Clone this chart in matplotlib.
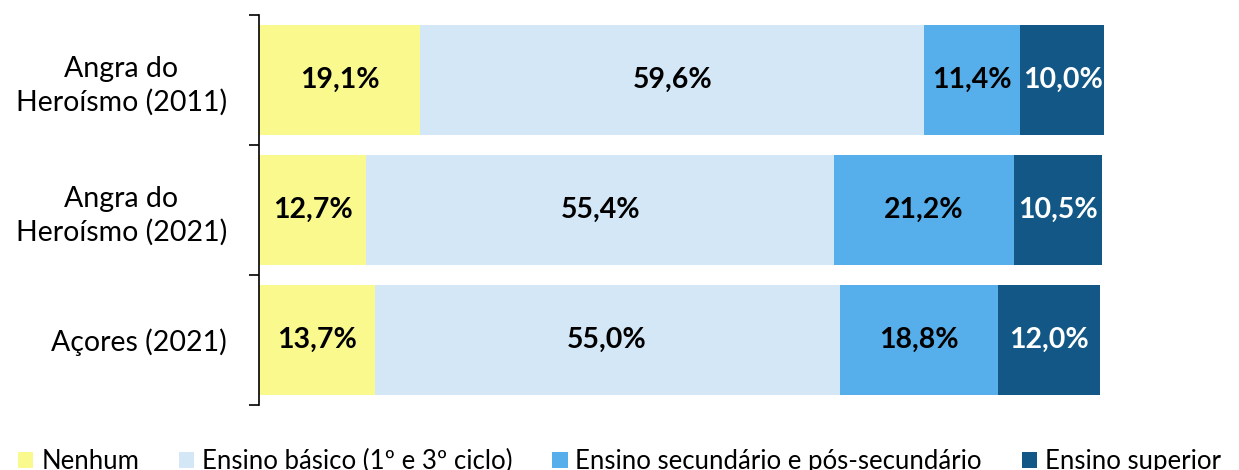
"""Stacked horizontal bars: education level distribution."""

import matplotlib.pyplot as plt
from matplotlib.patches import Patch

plt.rcParams["font.family"] = ["Lato", "DejaVu Sans"]

categories = ["Angra do\nHeroísmo (2011)", "Angra do\nHeroísmo (2021)", "Açores (2021)"]
series_names = [
    "Nenhum",
    "Ensino básico (1º e 3º ciclo)",
    "Ensino secundário e pós-secundário",
    "Ensino superior",
]
nenhum = [19.1, 12.7, 13.7]
basico = [59.6, 55.4, 55.0]
secundario = [11.4, 21.2, 18.8]
superior = [10.0, 10.5, 12.0]

colors = ["#F9F98E", "#D3E7F7", "#56AEEA", "#125785"]
text_colors = ["black", "black", "black", "white"]

fig = plt.figure(figsize=(12.39, 4.70), dpi=100)
ax = fig.add_axes([259 / 1239, 1 - 405 / 470, (1104 - 259) / 1239, 390 / 470])

ypos = [0, 1, 2]
left = [0.0, 0.0, 0.0]
for name, vals, col, tcol in zip(series_names, [nenhum, basico, secundario, superior], colors, text_colors):
    ax.barh(ypos, vals, left=left, height=0.846, color=col, label=name)
    for y, v, l in zip(ypos, vals, left):
        ax.text(l + v / 2, y, f"{v:.1f}%".replace(".", ","), ha="center", va="center",
                fontsize=20.5, fontweight="bold", color=tcol)
    left = [a + b for a, b in zip(left, vals)]

ax.set_ylim(2.5, -0.5)
ax.set_xlim(0, 100)
ax.set_yticks(ypos)
ax.set_yticklabels(categories, fontsize=20.5, multialignment="center", linespacing=1.3)
ax.set_yticks([-0.5, 0.5, 1.5, 2.5], minor=True)
ax.tick_params(axis="y", which="major", length=0, pad=23)
ax.tick_params(axis="y", which="minor", length=7, width=1.2, color="black")
ax.set_xticks([])
for side in ["top", "right", "bottom"]:
    ax.spines[side].set_visible(False)
ax.spines["left"].set_linewidth(1.2)

handles = [Patch(facecolor=c, edgecolor="none") for c in colors]
fig.legend(handles, series_names, loc="upper center", bbox_to_anchor=(0.5, 1 - 431 / 470),
           ncol=4, frameon=False, fontsize=18.5, handlelength=0.6, handleheight=0.6,
           handletextpad=0.3, columnspacing=1.55, borderpad=0.2)

fig.savefig("out.png", dpi=100)
